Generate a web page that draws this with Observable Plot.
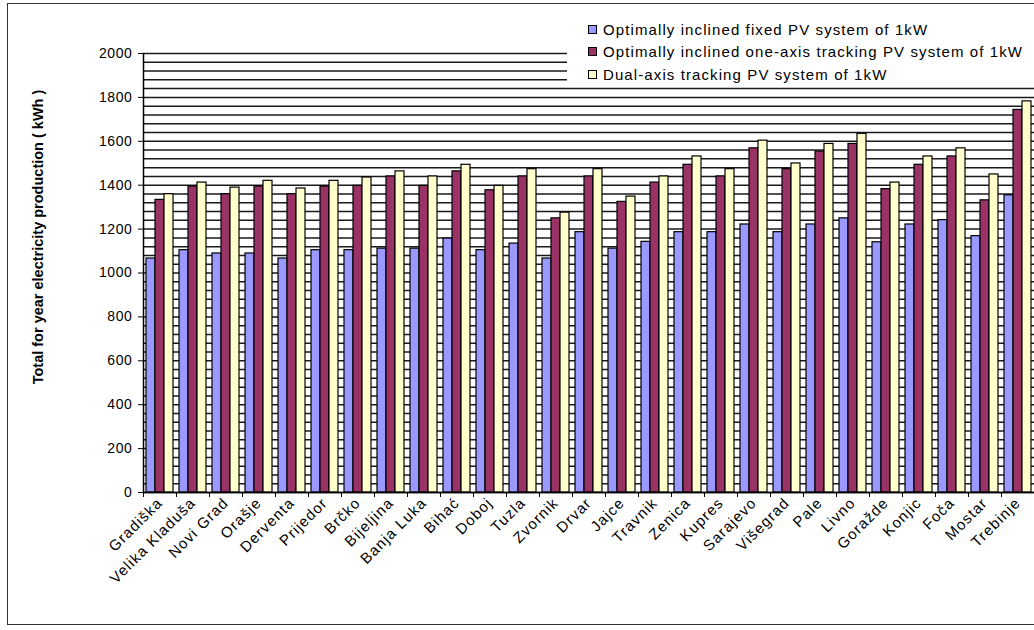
<!DOCTYPE html>
<html>
<head>
<meta charset="utf-8">
<script src="https://cdn.jsdelivr.net/npm/d3@7"></script>
<script src="https://cdn.jsdelivr.net/npm/@observablehq/plot@0.6"></script>
<style>
  html, body { margin: 0; padding: 0; background: #fff; }
  #wrap { position: relative; width: 1034px; height: 630px; overflow: hidden; background: #fff; font-family: "Liberation Sans", Arial, sans-serif; }
  #frame { position: absolute; left: 7px; top: 3px; width: 1040px; height: 622px; border: 1.5px solid #333; box-sizing: border-box; pointer-events: none; }
  #legend { position: absolute; left: 567px; top: 5px; width: 470px; height: 79px; background: #fff; }
  .item { position: absolute; left: 21px; display: flex; align-items: center; font-size: 15px; letter-spacing: 1.1px; color: #000; white-space: nowrap; }
  .sw { width: 7px; height: 7px; border: 1px solid #000; margin-right: 6px; }
  #ytitle { position: absolute; left: 38px; top: 237px; width: 0; height: 0; }
  #ytitle span { position: absolute; left: 0; top: 0; transform: translate(-50%, -50%) rotate(-90deg); font-weight: bold; font-size: 14.5px; white-space: nowrap; color: #000; line-height: 1; }
  svg g[aria-label="x-axis tick label"] text { font-size: 15px; letter-spacing: 1.1px; }
  svg g[aria-label="y-axis tick label"] text { font-size: 14px; letter-spacing: 0.6px; }
</style>
</head>
<body>
<div id="wrap"></div>
<script>
const cities = ["Gradiška","Velika Kladuša","Novi Grad","Orašje","Derventa","Prijedor","Brčko","Bijeljina","Banja Luka","Bihać","Doboj","Tuzla","Zvornik","Drvar","Jajce","Travnik","Zenica","Kupres","Sarajevo","Višegrad","Pale","Livno","Goražde","Konjic","Foča","Mostar","Trebinje"];
const seriesNames = ["Optimally inclined fixed PV system of 1kW","Optimally inclined one-axis tracking PV system of 1kW","Dual-axis tracking PV system of 1kW"];
const fixedPV = [1066,1104,1089,1089,1066,1104,1104,1111,1111,1157,1104,1134,1066,1186,1111,1142,1186,1186,1221,1186,1221,1249,1140,1221,1241,1168,1354];
const oneAxisPV = [1333,1394,1359,1394,1359,1394,1397,1440,1397,1463,1377,1440,1249,1440,1324,1412,1493,1440,1568,1473,1553,1588,1382,1493,1531,1331,1743];
const dualAxisPV = [1359,1412,1389,1420,1385,1420,1435,1463,1440,1493,1397,1473,1275,1473,1348,1440,1531,1473,1603,1499,1588,1634,1412,1531,1568,1449,1782];
const yTicks = [0,200,400,600,800,1000,1200,1400,1600,1800,2000];
const gridValues = d3.range(0, 2001, 40);
const colors = ["#9999FF","#993366","#FFFFCC"];
const yTitle = "Total for year electricity production ( kWh )";

const seriesValues = [fixedPV, oneAxisPV, dualAxisPV];
const rows = cities.flatMap((c, i) => seriesNames.map((s, j) => ({city: c, series: s, value: seriesValues[j][i]})));

const chart = Plot.plot({
  width: 1034,
  height: 630,
  marginLeft: 143,
  marginRight: 0,
  marginTop: 53,
  marginBottom: 138,
  style: {fontFamily: "'Liberation Sans', Arial, sans-serif", color: "#000", background: "transparent", overflow: "visible"},
  x: {domain: cities, paddingInner: 0, paddingOuter: 0},
  y: {domain: [0, 2000]},
  marks: [
    Plot.ruleY(gridValues, {stroke: "#1a1a1a", strokeWidth: 1.5}),
    ...seriesNames.map((s, j) => Plot.barY(rows.filter(d => d.series === s), {
      x: "city", y: "value", fill: colors[j], stroke: "#000", strokeWidth: 1.2,
      insetLeft: 3 + 9 * j, insetRight: 3 + 9 * (2 - j)
    })),
    Plot.ruleY([0], {stroke: "#000", strokeWidth: 1.5}),
    Plot.ruleX([cities[0]], {dx: -16.5, stroke: "#000", strokeWidth: 1.5}),
    Plot.axisY({ticks: yTicks, tickSize: 5, tickPadding: 6, label: null, tickFormat: d => String(d)}),
    Plot.axisX({tickSize: 0, tickRotate: -45, tickPadding: 8, label: null}),
    Plot.axisX({tickSize: 5, text: null, dx: -16.5, label: null})
  ]
});

const wrap = document.getElementById("wrap");
wrap.appendChild(chart);

const legend = document.createElement("div");
legend.id = "legend";
const tops = [16, 38, 61];
seriesNames.forEach((s, j) => {
  const it = document.createElement("div");
  it.className = "item";
  it.style.top = tops[j] + "px";
  const sw = document.createElement("span");
  sw.className = "sw";
  sw.style.background = colors[j];
  const tx = document.createElement("span");
  tx.textContent = s;
  it.appendChild(sw);
  it.appendChild(tx);
  legend.appendChild(it);
});
wrap.appendChild(legend);

const yt = document.createElement("div");
yt.id = "ytitle";
const ys = document.createElement("span");
ys.textContent = yTitle;
yt.appendChild(ys);
wrap.appendChild(yt);

const fr = document.createElement("div");
fr.id = "frame";
wrap.appendChild(fr);
</script>
</body>
</html>
